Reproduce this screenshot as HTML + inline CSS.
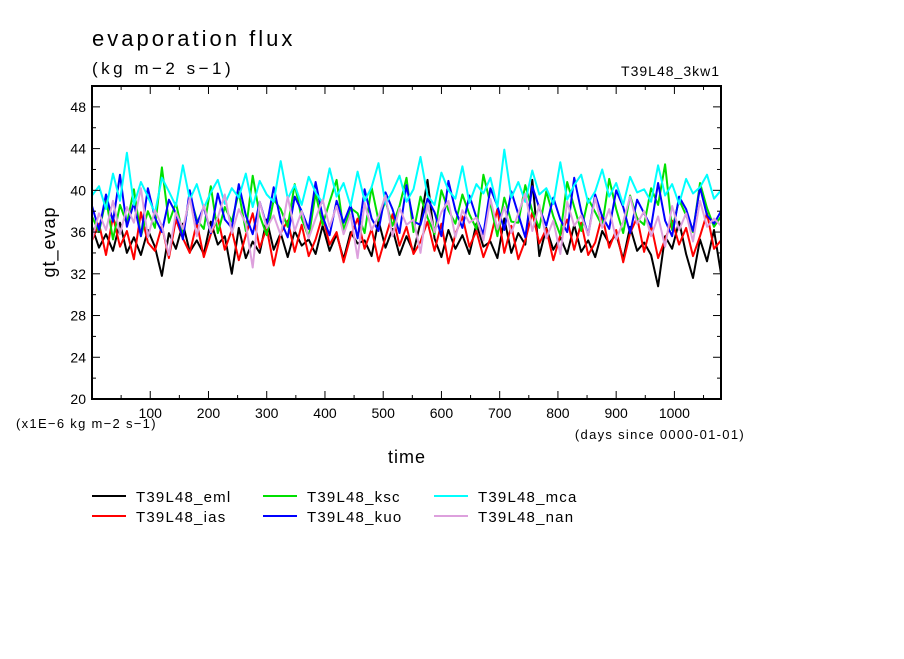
<!DOCTYPE html>
<html><head><meta charset="utf-8"><style>
html,body{margin:0;padding:0;background:#fff;}
svg text{font-family:"Liberation Sans","DejaVu Sans",sans-serif;fill:#000;}
</style></head><body>
<svg id="chart" width="904" height="654" viewBox="0 0 904 654" xmlns="http://www.w3.org/2000/svg">
<rect width="904" height="654" fill="#fff"/>
<text x="92" y="46" font-size="22" letter-spacing="3">evaporation flux</text>
<text x="92" y="74" font-size="17" letter-spacing="3.5">(kg m−2 s−1)</text>
<text x="720" y="76" font-size="14" text-anchor="end" letter-spacing="1">T39L48_3kw1</text>
<g id="series"></g>
<rect x="92" y="86" width="629" height="313" fill="none" stroke="#000" stroke-width="2"/>
<g id="axes"></g>
<text transform="translate(55,242) rotate(-90)" font-size="18" text-anchor="middle" letter-spacing="1">gt_evap</text>
<text x="16" y="428" font-size="13" letter-spacing="1.3">(x1E−6 kg m−2 s−1)</text>
<text x="407" y="463" font-size="18" text-anchor="middle" letter-spacing="1">time</text>
<text x="745" y="439" font-size="13" text-anchor="end" letter-spacing="1.3">(days since 0000-01-01)</text>
<g id="legend"></g>
</svg>
<script>
const xTicks=[100,200,300,400,500,600,700,800,900,1000];
const yTicks=[20,24,28,32,36,40,44,48];
const seriesNames=["T39L48_eml","T39L48_ias","T39L48_ksc","T39L48_kuo","T39L48_mca","T39L48_nan"];
const seriesColors=["#000000","#ff0000","#00e000","#0000ff","#00ffff","#dda0dd"];
const stepDays=12;
const emlVals=[36.5,34.5,35.8,34.2,36.9,34.0,35.5,33.8,36.2,34.6,31.8,35.9,34.4,36.8,34.1,35.2,33.9,37.0,34.8,35.6,32.0,36.4,33.5,35.1,34.0,37.2,34.3,35.9,33.6,36.1,34.7,35.3,33.9,36.6,34.2,35.8,33.4,36.0,34.9,35.2,33.7,37.1,34.5,36.3,33.8,35.6,34.1,36.9,41.0,35.4,33.6,36.2,34.4,35.7,33.9,36.8,34.6,35.1,33.5,37.3,34.0,35.9,34.8,41.0,33.7,36.4,34.3,35.5,33.9,36.7,34.1,35.2,33.6,36.1,34.9,35.8,33.4,36.5,34.2,35.0,33.8,30.8,35.6,34.4,37.0,33.9,31.6,35.3,33.2,36.2,32.0];
const iasVals=[35.2,36.8,33.8,37.5,34.6,36.1,33.4,37.9,35.0,34.2,36.6,33.5,37.2,35.4,34.0,36.9,33.6,35.8,37.4,34.3,36.2,33.3,35.7,37.8,34.5,36.4,32.8,35.9,37.1,34.1,36.7,33.7,35.3,37.6,34.8,36.0,33.1,35.6,37.3,34.4,36.3,33.2,35.5,37.7,34.7,36.5,33.9,35.1,37.0,34.2,36.8,33.0,35.8,37.5,34.6,36.1,33.6,35.4,38.2,34.0,36.6,33.4,35.2,37.9,34.9,36.3,33.3,35.7,37.2,34.3,36.9,33.8,35.0,37.6,34.5,36.2,33.1,35.9,37.4,34.1,36.7,33.5,35.3,37.1,34.8,36.4,33.7,35.6,37.8,34.4,35.2];
const kscVals=[37.5,36.0,39.2,35.3,38.6,36.8,40.1,35.6,38.0,36.4,42.2,36.9,38.8,35.8,39.5,37.2,36.3,40.4,35.9,38.4,37.0,39.8,36.1,41.4,37.6,35.7,39.1,38.2,36.5,40.6,37.3,35.5,39.7,36.7,38.9,41.0,36.2,38.3,37.8,35.9,40.3,37.1,39.0,36.6,38.5,41.2,36.0,39.4,37.4,35.8,40.0,38.1,36.8,39.6,37.7,36.3,41.5,38.7,35.6,39.3,37.0,36.9,40.5,38.0,36.4,39.9,37.5,35.7,40.8,38.4,36.1,39.2,37.9,36.6,41.1,38.2,35.9,39.5,37.3,36.7,40.2,38.6,42.5,36.2,39.1,37.6,36.0,40.7,38.3,36.5,37.5];
const kuoVals=[38.5,36.2,39.6,37.0,41.5,36.5,38.8,35.6,40.2,37.4,36.0,39.1,37.8,35.3,40.0,36.8,38.4,35.9,39.7,37.2,36.4,40.6,37.6,35.8,38.9,36.6,40.3,37.1,35.5,39.4,38.0,36.3,40.8,37.5,35.7,39.0,36.9,38.6,35.4,40.1,37.3,36.1,39.8,38.2,35.9,40.5,37.0,36.7,39.2,37.9,35.6,40.9,38.1,36.4,39.5,37.4,35.8,40.2,38.5,36.2,39.9,37.7,35.5,40.4,38.3,36.6,39.3,37.2,36.0,41.2,38.0,35.7,39.6,37.5,36.3,40.0,38.4,35.9,39.1,37.8,36.5,40.7,37.1,35.6,39.4,38.2,36.1,40.3,37.6,36.8,38.0];
const mcaVals=[39.5,40.4,38.2,41.6,39.0,43.6,38.6,40.8,39.4,37.8,41.2,39.9,38.5,42.4,39.1,40.6,38.3,39.8,41.0,38.7,40.2,39.3,41.6,38.4,40.9,39.6,38.9,42.8,39.2,40.5,38.6,41.3,39.8,38.8,42.1,39.4,40.7,38.5,41.8,39.0,40.3,42.6,38.7,39.9,41.4,38.9,40.1,43.2,39.5,38.6,41.7,40.0,39.2,42.3,38.8,40.6,39.7,41.2,38.4,43.9,39.3,40.8,38.9,41.9,39.6,40.2,38.7,42.7,39.1,40.5,41.5,38.8,39.9,42.0,39.4,40.7,38.6,41.3,39.8,40.1,38.9,42.4,39.5,40.6,38.7,41.1,39.7,40.3,41.5,39.2,40.0];
const nanVals=[35.3,37.8,36.2,39.0,35.8,38.4,36.9,40.2,35.5,38.1,36.6,33.8,37.9,36.3,39.3,35.6,38.6,36.0,37.4,39.6,35.9,38.2,36.8,32.6,38.9,36.4,37.6,35.7,39.4,36.1,38.0,35.4,37.3,39.1,36.5,38.5,35.8,37.7,33.5,38.8,36.2,37.5,39.5,35.6,38.3,36.7,37.2,34.0,38.7,36.0,37.9,39.0,35.5,38.1,36.9,37.4,35.2,39.2,36.3,38.4,35.9,37.8,39.7,36.1,38.6,35.4,37.1,33.9,38.9,36.6,37.6,35.7,39.3,36.4,38.2,35.3,37.0,39.4,36.8,38.0,35.6,37.5,34.6,38.5,36.2,37.8,35.1,39.0,36.5,37.3,36.6];
const seriesVals=[emlVals,iasVals,kscVals,kuoVals,mcaVals,nanVals];
const NS="http://www.w3.org/2000/svg";
const X0=92,X1=721,Y0=399,Y1=86,XMIN=0,XMAX=1080,YMIN=20,YMAX=50;
function xs(v){return X0+(v-XMIN)/(XMAX-XMIN)*(X1-X0);}
function ys(v){return Y0-(v-YMIN)/(YMAX-YMIN)*(Y0-Y1);}
function mk(tag,attrs,parent){const e=document.createElementNS(NS,tag);for(const k in attrs)e.setAttribute(k,attrs[k]);parent.appendChild(e);return e;}
const sg=document.getElementById('series');
seriesVals.forEach((vals,i)=>{
  const d=vals.map((v,j)=>(j?'L':'M')+xs(j*stepDays).toFixed(1)+','+ys(v).toFixed(1)).join('');
  const p=mk('path',{d:d,fill:'none',stroke:seriesColors[i],'stroke-width':2,'stroke-linejoin':'round'},sg);
  
  
});
const ax=document.getElementById('axes');
for(let v=YMIN;v<=YMAX;v+=2){
  const big=yTicks.includes(v);const L=big?8:4;
  mk('line',{x1:X0,x2:X0+L,y1:ys(v),y2:ys(v),stroke:'#000','stroke-width':1},ax);
  mk('line',{x1:X1,x2:X1-L,y1:ys(v),y2:ys(v),stroke:'#000','stroke-width':1},ax);
}
yTicks.forEach(v=>{
  const t=mk('text',{x:X0-6,y:ys(v)+5,'font-size':14,'text-anchor':'end'},ax);t.textContent=v;
  
  
});
for(let v=50;v<XMAX;v+=50){
  const big=xTicks.includes(v);const L=big?8:4;
  mk('line',{x1:xs(v),x2:xs(v),y1:Y0,y2:Y0-L,stroke:'#000','stroke-width':1},ax);
  mk('line',{x1:xs(v),x2:xs(v),y1:Y1,y2:Y1+L,stroke:'#000','stroke-width':1},ax);
}
xTicks.forEach(v=>{
  const t=mk('text',{x:xs(v),y:Y0+19,'font-size':14,'text-anchor':'middle'},ax);t.textContent=v;
  
  
});
const lg=document.getElementById('legend');
seriesNames.forEach((n,i)=>{
  const col=Math.floor(i/2),row=i%2;
  const x=92+col*171,y=496+row*20;
  const g=mk('g',{},lg);
  
  
  mk('line',{x1:x,x2:x+34,y1:y,y2:y,stroke:seriesColors[i],'stroke-width':2},g);
  const t=mk('text',{x:x+44,y:y+6,'font-size':15,'letter-spacing':1.2},g);t.textContent=n;
});
</script>
</body></html>
